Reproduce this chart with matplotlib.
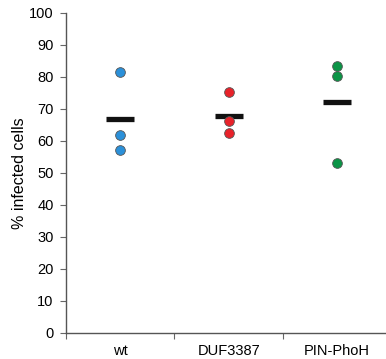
import numpy as np
import matplotlib
matplotlib.use("Agg")
import matplotlib.pyplot as plt

plt.rcParams['font.family'] = ['Liberation Sans', 'DejaVu Sans']

# dane
grupy = ["wt", "DUF3387", "PIN-PhoH"]
wt = [81.7, 61.8, 57.3]
duf = [75.2, 66.1, 62.5]
pin = [83.5, 80.3, 53.1]
kolory = ["#2b90d9", "#e8222a", "#0b9446"]

wartosci = [wt, duf, pin]

fig = plt.figure(figsize=(3.86, 3.59), dpi=100)
ax = fig.add_axes([66 / 386, 1 - 333 / 359, 320 / 386, 320 / 359])

for i, (w, k) in enumerate(zip(wartosci, kolory)):
    x = i + 0.5
    ax.plot([x] * len(w), w, "o", color=k, markersize=7,
            markeredgecolor="#555555", markeredgewidth=0.6, zorder=3)
    ax.plot([x - 0.13, x + 0.13], [np.mean(w)] * 2, color="#111111",
            linewidth=3.8, solid_capstyle="butt", zorder=2)

ax.set_xlim(0, 2.95)
ax.set_ylim(0, 100)
ax.set_yticks(range(0, 101, 10))
ax.set_xticks([0, 1, 2])
ax.set_xticklabels([])
ax.set_xticks([0.5, 1.5, 2.5], minor=True)
ax.set_xticklabels(grupy, minor=True)
ax.tick_params(axis="x", which="minor", length=0, pad=8, labelsize=10.5)
ax.tick_params(axis="x", which="major", length=4, color="#666666", direction="out")
ax.tick_params(axis="y", length=4, color="#666666", labelsize=10.5, pad=5)
ax.set_ylabel("% infected cells", fontsize=11.5, labelpad=1.5)

for s in ["top", "right"]:
    ax.spines[s].set_visible(False)
for s in ["left", "bottom"]:
    ax.spines[s].set_color("#555555")
    ax.spines[s].set_linewidth(1.0)

fig.savefig("out.png", dpi=100)
